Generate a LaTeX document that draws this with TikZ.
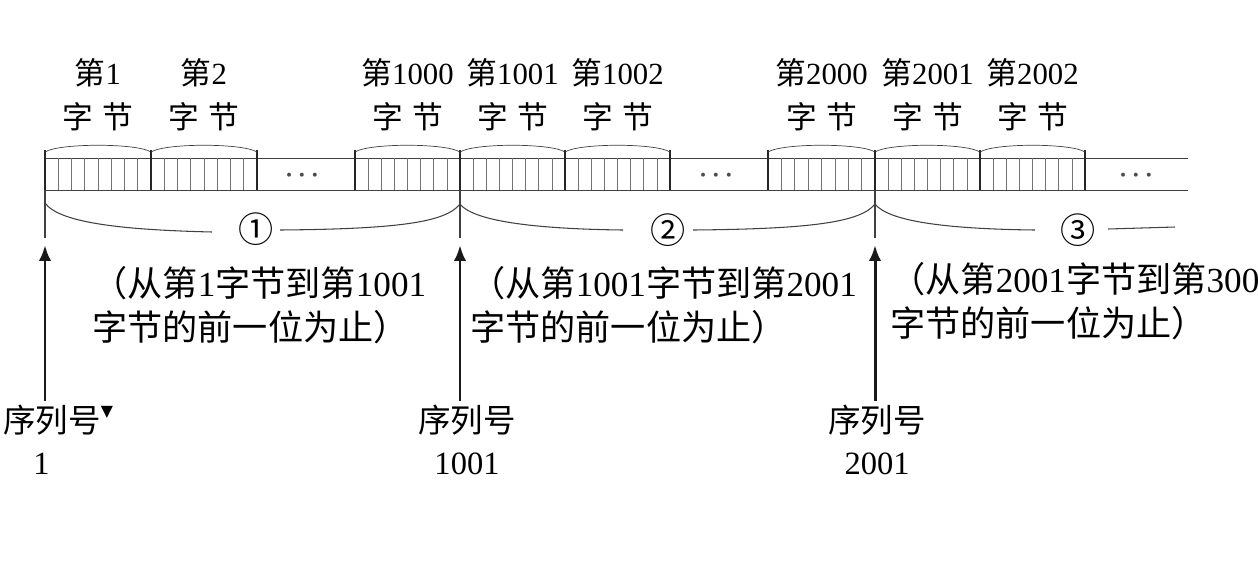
\documentclass[tikz,border=0pt]{standalone}
\usepackage{fontspec}
\setmainfont{Liberation Serif}
\newfontfamily\cjk{Noto Sans CJK SC}
\newfontfamily\symfont{DejaVu Sans}
\usetikzlibrary{arrows.meta}
\newcommand\zh[1]{{\cjk #1}}

\begin{document}
\begin{tikzpicture}[x=0.02cm,y=-0.02cm,>=Stealth,
  lbl/.style={font=\fontsize{17.5}{25}\selectfont,align=center,inner sep=0pt},
  txt/.style={font=\fontsize{20}{25}\selectfont,align=left,inner sep=0pt,anchor=north west},
  seqlbl/.style={font=\fontsize{18.5}{24}\selectfont,align=center,inner sep=0pt},
  circ/.style={font=\fontsize{20}{20}\selectfont\cjk,inner sep=0pt},
  dots/.style={font=\fontsize{15}{15}\selectfont\boldmath,text=black!70},
  bit/.style={black!55,line width=0.4pt},
  edge/.style={black!85,line width=1pt},
  brace/.style={black!75,line width=0.6pt},
  arr/.style={->,black!90,line width=1.7pt,>={Latex[length=9pt,width=7pt]}}]
  \useasboundingbox (0,0) rectangle (1258,586);

  % The byte stream.
  \draw[black!75] (45,158)--(1188,158);
  \draw[black!75] (45,190)--(1188,190);
  \foreach \a/\b/\n in {45/151/1,151/257/2,355/460/1000,460/565/1001,
                        565/670/1002,768/875/2000,875/980/2001,980/1085/2002}
  {
    \draw[edge] (\a,150)--(\a,190);
    \draw[edge] (\b,150)--(\b,190);
    \foreach \k in {1,...,7}
      \draw[bit] ({\a+(\b-\a)*\k/8},158)--({\a+(\b-\a)*\k/8},190);
    \draw[black!75] (\a,152) .. controls (\a+14,143) and (\b-14,143) .. (\b,152);
    \node[lbl] (byte\n) at ({(\a+\b)/2},95) {\zh{第}\n\\\zh{字\hspace{0.3em}节}};
  }
  \node[dots] (gap1) at (302,175) {$\cdots$};
  \node[dots] (gap2) at (716,175) {$\cdots$};
  \node[dots] (gap3) at (1136,175) {$\cdots$};

  % Segment limits and the three segments.
  \foreach \x in {45,460,875}
    \draw[brace] (\x,190)--(\x,238);
  \node[circ] (seg1) at (256,229) {①};
  \node[circ] (seg2) at (668,230) {②};
  \node[circ] (seg3) at (1078,230) {③};
  \draw[brace] (45,203) .. controls (60,224) and (130,230) .. (212,232);
  \draw[brace] (280,230) .. controls (400,229) and (446,222) .. (460,204);
  \draw[brace] (460,204) .. controls (474,222) and (540,229) .. (623,230);
  \draw[brace] (693,230) .. controls (812,229) and (861,222) .. (875,204);
  \draw[brace] (875,204) .. controls (889,222) and (950,229) .. (1035,230);
  \draw[brace] (1108,229)--(1175,227);

  \node[txt] (note1) at (92,266)
    {\zh{（从第}1\zh{字节到第}1001\\\zh{字节的前一位为止）}};
  \node[txt] (note2) at (470,266)
    {\zh{（从第}1001\zh{字节到第}2001\\\zh{字节的前一位为止）}};
  \node[txt] (note3) at (890,262)
    {\zh{（从第}2001\zh{字节到第}300\\\zh{字节的前一位为止）}};

  % Sequence numbers.
  \coordinate (p1) at (45,245);
  \coordinate (p2) at (460,245);
  \coordinate (p3) at (875,245);
  \node[seqlbl] (seq1) at (52,440)
    {\zh{序列号}\rlap{\raisebox{1.1ex}{\symfont\fontsize{9}{9}\selectfont ▼}}\\\hspace*{-12pt}1};
  \node[seqlbl] (seq2) at (467,440) {\zh{序列号}\\1001};
  \node[seqlbl] (seq3) at (877,440) {\zh{序列号}\\2001};
  \draw[arr] (seq1.north -| p1) ++(0,-4)--(p1);
  \draw[arr] (seq2.north -| p2) ++(0,-4)--(p2);
  \draw[arr] (seq3.north -| p3) ++(0,-4)--(p3);
\end{tikzpicture}
\end{document}
